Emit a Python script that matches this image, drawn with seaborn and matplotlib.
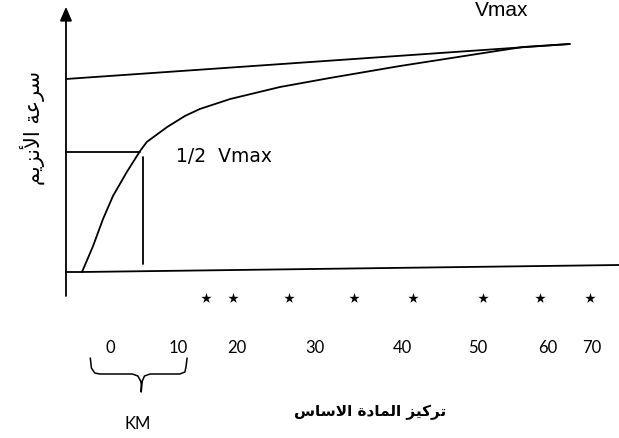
import numpy as np
import matplotlib
matplotlib.use("Agg")
import matplotlib.pyplot as plt
import seaborn as sns

# ---- data -------------------------------------------------------------
# Michaelis-Menten style reaction-velocity curve (substrate, velocity)
curve_s = [2.9, 4.9, 6.7, 8.5, 11.0, 13.4, 14.6, 18.3, 21.5, 24.2, 29.7, 38.7, 47.7, 60.4, 76.7, 82.6, 91.1]
curve_v = [0.0, 10.4, 21.2, 30.4, 40.0, 48.4, 52.0, 58.0, 62.4, 65.2, 69.2, 74.0, 77.6, 82.4, 88.0, 90.0, 91.2]

# Vmax guide line, baseline, half-Vmax guide and the Km drop line
vmax_s = [0.0, 91.1]
vmax_v = [77.2, 91.2]
base_s = [0.0, 2.9, 100.0]
base_v = [0.0, 0.0, 2.8]
half_s = [0.0, 13.4]
half_v = [48.0, 48.0]
km_s = [13.9, 13.9]
km_v = [46.0, 3.2]

# vertical (velocity) axis
vaxis_s = [0.0, 0.0]
vaxis_v = [-9.6, 103.0]
vaxis_tip = 107.2

# star markers below the baseline
star_s = [25.3, 30.2, 40.3, 52.1, 62.7, 75.4, 85.7, 94.8]
star_v = [-10.4] * 8

# concentration tick labels
tick_labels = ["0", "10", "20", "30", "40", "50", "60", "70"]
tick_s = [8.0, 20.3, 30.9, 45.0, 60.9, 74.5, 87.2, 95.1]
tick_v = -30.0

# curly brace marking the Km range
brace_s = [4.4, 4.6, 5.2, 6.1, 12.0, 13.0, 13.5, 13.6, 13.6, 13.8, 14.2, 15.2, 20.6, 21.5, 21.7, 21.9]
brace_v = [-34.4, -38.4, -40.4, -40.8, -40.8, -41.6, -43.6, -44.6, -48.0, -43.6, -41.6, -40.8, -40.8, -40.0, -38.0, -34.4]

# ---- Arabic shaping (presentation forms, right-to-left) -----------------
FORMS = {
    "\u0627": ("\uFE8D", "\uFE8E", None, None),        # alef
    "\u0623": ("\uFE83", "\uFE84", None, None),        # alef hamza
    "\u0629": ("\uFE93", "\uFE94", None, None),        # teh marbuta
    "\u062A": ("\uFE95", "\uFE96", "\uFE97", "\uFE98"),  # teh
    "\u062F": ("\uFEA9", "\uFEAA", None, None),        # dal
    "\u0631": ("\uFEAD", "\uFEAE", None, None),        # reh
    "\u0632": ("\uFEAF", "\uFEB0", None, None),        # zain
    "\u0633": ("\uFEB1", "\uFEB2", "\uFEB3", "\uFEB4"),  # seen
    "\u0639": ("\uFEC9", "\uFECA", "\uFECB", "\uFECC"),  # ain
    "\u0643": ("\uFED9", "\uFEDA", "\uFEDB", "\uFEDC"),  # kaf
    "\u0644": ("\uFEDD", "\uFEDE", "\uFEDF", "\uFEE0"),  # lam
    "\u0645": ("\uFEE1", "\uFEE2", "\uFEE3", "\uFEE4"),  # meem
    "\u0646": ("\uFEE5", "\uFEE6", "\uFEE7", "\uFEE8"),  # noon
    "\u064A": ("\uFEF1", "\uFEF2", "\uFEF3", "\uFEF4"),  # yeh
    "\u0644\u0627": ("\uFEFB", "\uFEFC", None, None),  # lam-alef
    "\u0644\u0623": ("\uFEF7", "\uFEF8", None, None),  # lam-alef hamza
}


def shape_arabic(text):
    units, i = [], 0
    while i < len(text):
        pair = text[i:i + 2]
        if pair in FORMS:
            units.append(pair)
            i += 2
        else:
            units.append(text[i])
            i += 1
    out = []
    for k, u in enumerate(units):
        if u not in FORMS:
            out.append(u)
            continue
        prev = units[k - 1] if k > 0 else None
        nxt = units[k + 1] if k + 1 < len(units) else None
        iso, fin, ini, med = FORMS[u]
        p = prev in FORMS and FORMS[prev][2] is not None
        n = nxt in FORMS and ini is not None
        out.append(med if (p and n) else fin if p else ini if n else iso)
    return "".join(reversed(out))


x_title = shape_arabic("تركيز المادة الاساس")
y_title = shape_arabic("سرعة الأنزيم")

# ---- figure -----------------------------------------------------------
sns.set_theme(style="white")
plt.rcParams["font.family"] = ["DejaVu Sans"]

fig = plt.figure(figsize=(6.19, 4.39), dpi=100)
ax = fig.add_axes([0, 0, 1, 1])
ax.set_xlim(-11.93, 100.0)
ax.set_ylim(-66.4, 109.2)
ax.set_axis_off()

line_kw = dict(ax=ax, color="black", linewidth=1.3, estimator=None, sort=False, legend=False)
sns.lineplot(x=vaxis_s, y=vaxis_v, **line_kw)
sns.lineplot(x=base_s, y=base_v, **line_kw)
sns.lineplot(x=vmax_s, y=vmax_v, **line_kw)
sns.lineplot(x=half_s, y=half_v, **line_kw)
sns.lineplot(x=km_s, y=km_v, **line_kw)
sns.lineplot(x=curve_s, y=curve_v, **line_kw)
sns.lineplot(x=brace_s, y=brace_v, **dict(line_kw, linewidth=1.1))

ax.annotate("", xy=(vaxis_s[0], vaxis_tip), xytext=(vaxis_s[0], vaxis_v[1] - 2),
            arrowprops=dict(arrowstyle="-|>,head_length=0.7,head_width=0.3",
                            color="black", lw=1.3, mutation_scale=12))

sns.scatterplot(x=star_s, y=star_v, ax=ax, marker="*", s=60, color="black",
                linewidth=0, legend=False)

for lab, s in zip(tick_labels, tick_s):
    ax.text(s, tick_v, lab, ha="center", va="center", fontsize=12,
            family=["Lato", "DejaVu Sans"], color="black")

ax.text(12.9, -60.4, "KM", ha="center", va="center", fontsize=12,
        family=["Lato", "DejaVu Sans"], color="black")
ax.text(55.0, -55.6, x_title, ha="center", va="center", fontsize=11,
        fontweight="bold", family=["DejaVu Sans"], color="black")
ax.text(-6.1, 58.0, y_title, ha="center", va="center", fontsize=15,
        rotation=90, family=["DejaVu Sans"], color="black")

ax.text(78.7, 105.0, "Vmax", ha="center", va="center", fontsize=15,
        family=["Liberation Sans", "DejaVu Sans"], color="black")
ax.text(28.6, 46.8, "1/2  Vmax", ha="center", va="center", fontsize=13.5,
        family=["DejaVu Sans"], color="black")

fig.savefig("out.png", dpi=100)
